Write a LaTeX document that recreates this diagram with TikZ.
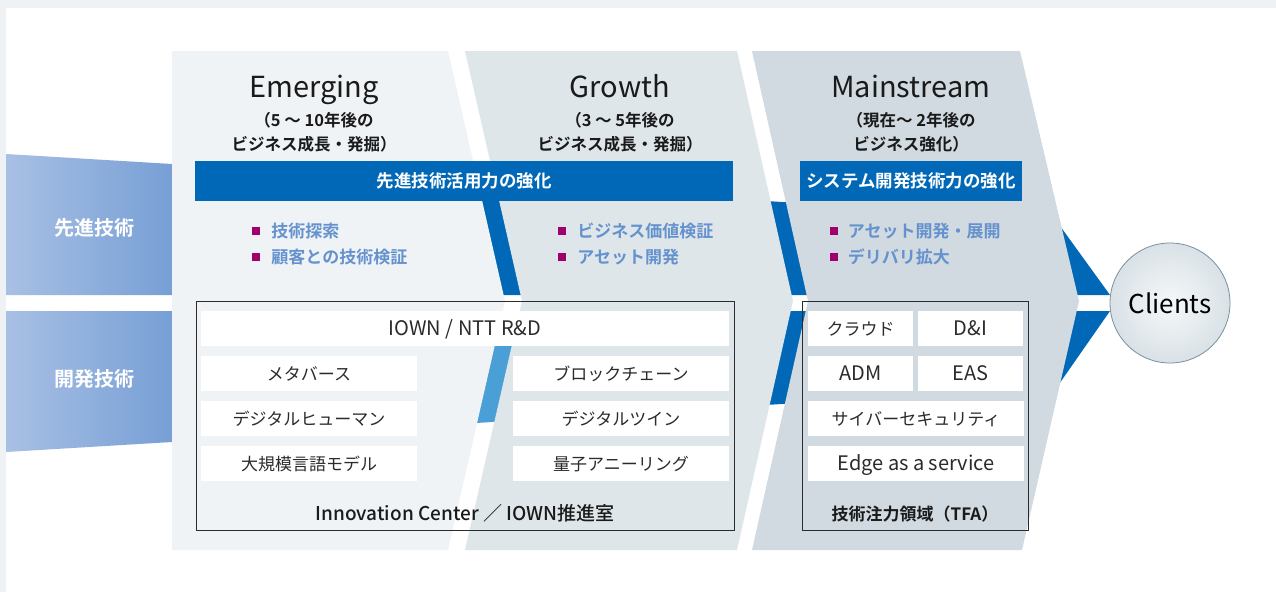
\documentclass[tikz,border=0pt]{standalone}
\usepackage{fontspec}
\setmainfont{Noto Sans CJK JP}[BoldFont={Noto Sans CJK JP Bold}]
\newfontfamily\medfont{Noto Sans CJK JP Medium}
\usetikzlibrary{positioning}

\definecolor{framegray}{HTML}{EFF2F5}
\definecolor{emfill}{HTML}{EFF3F6}
\definecolor{grfill}{HTML}{DFE6EA}
\definecolor{msfill}{HTML}{D0DAE0}
\definecolor{ntblue}{HTML}{0068B7}
\definecolor{ntlight}{HTML}{4A9FD6}
\definecolor{bandlight}{HTML}{A8C0E4}
\definecolor{banddark}{HTML}{779FD5}
\definecolor{bulletmag}{HTML}{A0006E}
\definecolor{bullettext}{HTML}{6592CE}
\definecolor{titlegray}{HTML}{1A1A1A}
\definecolor{boxtext}{HTML}{2B2B2B}
\definecolor{ballrim}{HTML}{7A909E}

\tikzset{
    sidelabel/.style={text=white, font=\fontsize{20}{22}\selectfont\bfseries},
    phasetitle/.style={anchor=base, text=titlegray, font=\fontsize{29}{32}\selectfont},
    phasesub/.style={anchor=base, align=center, text=titlegray, font=\fontsize{16.5}{23.5}\selectfont\bfseries},
    headbar/.style={fill=ntblue, text=white, inner sep=0pt, minimum height=40pt, text height=15pt, text depth=2pt, font=\fontsize{17.5}{20}\selectfont\bfseries},
    bulletsq/.style={fill=bulletmag, inner sep=0pt, minimum size=8pt},
    bullettext/.style={inner sep=0pt, text=bullettext, text height=15pt, text depth=2pt, font=\fontsize{17}{20}\selectfont\bfseries},
    tagbox/.style={fill=white, text=boxtext, inner sep=0pt, minimum height=35pt, text height=15pt, text depth=2pt, font=\fontsize{17}{20}\selectfont},
    tagboxen/.style={tagbox, font=\fontsize{20}{22}\selectfont},
    groupbox/.style={draw=boxtext, line width=1pt, inner sep=0pt, minimum height=229pt},
    groupname/.style={text=titlegray, inner sep=0pt, text height=15pt, text depth=2pt},
    clientball/.style={circle, draw=ballrim, line width=0.8pt, minimum size=120pt, inner sep=0pt, inner color=white!40!emfill, outer color=msfill!70!emfill, text=black, font=\fontsize{26}{28}\selectfont}
}

\begin{document}
\begin{tikzpicture}[x=1pt, y=-1pt]
        \useasboundingbox (0,0) rectangle (1276,592);
        \fill[framegray] (0,0) rectangle (1276,592);
        \fill[white] (6,8) rectangle (1276,592);

        \shade[left color=bandlight, right color=banddark] (6,154) -- (172,164) -- (172,295) -- (6,295) -- cycle;
        \shade[left color=bandlight, right color=banddark] (6,311) -- (172,311) -- (172,442) -- (6,452) -- cycle;
        \node[sidelabel] (advtech) at (94,228) {先進技術};
        \node[sidelabel] (devtech) at (94,379) {開発技術};

        \fill[ntblue] (172,164) -- (1055,219) -- (1110,295) -- (172,295) -- cycle;
        \fill[ntlight] (172,311) -- (620,311) -- (620,414) -- (172,442) -- cycle;
        \fill[ntblue] (620,311) -- (1110,311) -- (1057,387) -- (620,414) -- cycle;

        \fill[emfill] (172,51) -- (448,51) -- (505,301) -- (448,550) -- (172,550) -- cycle;
        \fill[grfill] (465,51) -- (737,51) -- (793,301) -- (737,550) -- (465,550) -- (522,301) -- cycle;
        \fill[msfill] (752,51) -- (1020,51) -- (1079,301) -- (1022,550) -- (752,550) -- (808,301) -- cycle;

        \node[phasetitle] (emtitle) at (314,97) {Emerging};
        \node[phasesub] (emsub) at (314,150) {（5 ～ 10年後の\\ビジネス成長・発掘）};
        \node[phasetitle] (grtitle) at (620,97) {Growth};
        \node[phasesub] (grsub) at (620,150) {（3 ～ 5年後の\\ビジネス成長・発掘）};
        \node[phasetitle] (mstitle) at (911,97) {Mainstream};
        \node[phasesub] (mssub) at (911,150) {（現在～ 2年後の\\ビジネス強化）};

        \node[headbar, minimum width=538pt] (techbar) at (464,181) {先進技術活用力の強化};
        \node[headbar, minimum width=222pt] (sysbar) at (911,181) {システム開発技術力の強化};

        \node[bulletsq] (sqexplore) at (256,231) {};
        \node[bullettext, right=11pt of sqexplore] (explore) {技術探索};
        \node[bulletsq] (sqverify) at (256,257) {};
        \node[bullettext, right=11pt of sqverify] (verify) {顧客との技術検証};
        \node[bulletsq] (sqvalue) at (562,231) {};
        \node[bullettext, right=11pt of sqvalue] (value) {ビジネス価値検証};
        \node[bulletsq] (sqasset) at (562,257) {};
        \node[bullettext, right=11pt of sqasset] (asset) {アセット開発};
        \node[bulletsq] (sqdeploy) at (833.5,231) {};
        \node[bullettext, right=10pt of sqdeploy] (deploy) {アセット開発・展開};
        \node[bulletsq] (sqdeliver) at (833.5,257) {};
        \node[bullettext, right=10pt of sqdeliver] (deliver) {デリバリ拡大};

        \node[groupbox, minimum width=538pt] (icbox) at (465,415.5) {};
        \node[tagboxen, minimum width=528pt] (iown) at (465,328.5) {IOWN / NTT R\&D};
        \node[tagbox, minimum width=216pt] (metaverse) at (309,373.5) {メタバース};
        \node[tagbox, minimum width=216pt] (dighuman) at (309,418.5) {デジタルヒューマン};
        \node[tagbox, minimum width=216pt] (llm) at (309,463.5) {大規模言語モデル};
        \node[tagbox, minimum width=216pt] (chain) at (621,373.5) {ブロックチェーン};
        \node[tagbox, minimum width=216pt] (twin) at (621,418.5) {デジタルツイン};
        \node[tagbox, minimum width=216pt] (anneal) at (621,463.5) {量子アニーリング};
        \node[groupname, font=\fontsize{19}{21}\selectfont\medfont] (icname) at (465,514) {Innovation Center ／ IOWN推進室};

        \node[groupbox, minimum width=226pt] (tfabox) at (915,415.5) {};
        \node[tagbox, minimum width=105pt] (cloud) at (860.5,328.5) {クラウド};
        \node[tagboxen, minimum width=105pt] (dni) at (970.5,328.5) {D\&I};
        \node[tagboxen, minimum width=105pt] (adm) at (860.5,373.5) {ADM};
        \node[tagboxen, minimum width=105pt] (eas) at (970.5,373.5) {EAS};
        \node[tagbox, minimum width=216pt] (cyber) at (916,418.5) {サイバーセキュリティ};
        \node[tagboxen, minimum width=216pt] (edge) at (916,463.5) {Edge as a service};
        \node[groupname, font=\fontsize{17}{20}\selectfont\bfseries] (tfaname) at (915,514) {技術注力領域（TFA）};

        \node[clientball] (clients) at (1170,303) {Clients};
    \end{tikzpicture}
\end{document}
